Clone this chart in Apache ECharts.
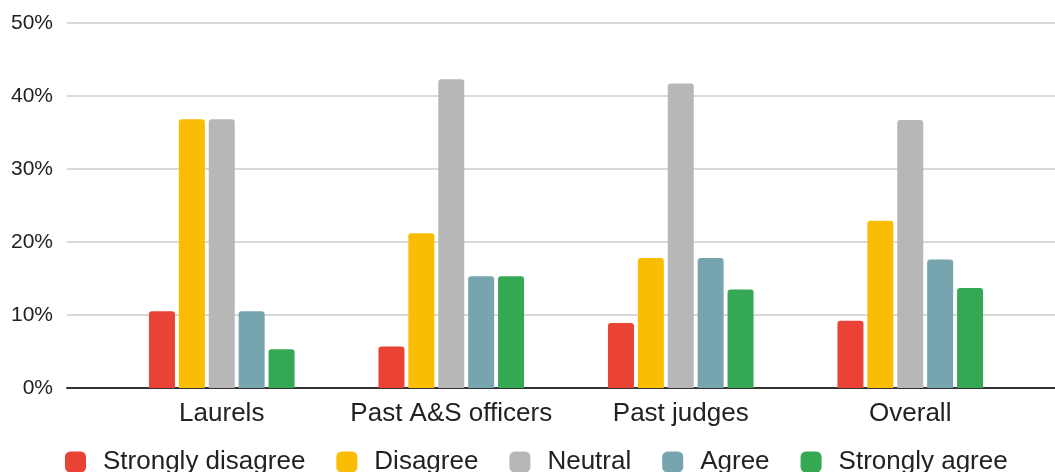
<!DOCTYPE html>
<html>
<head>
<meta charset="utf-8">
<script src="https://cdn.jsdelivr.net/npm/echarts@6/dist/echarts.min.js"></script>
<style>
html,body{margin:0;padding:0;background:#fff;}
#chart{width:1055px;height:472px;}
</style>
</head>
<body>
<div id="chart"></div>
<script>
const categories = ['Laurels', 'Past A&S officers', 'Past judges', 'Overall'];
const seriesNames = ['Strongly disagree', 'Disagree', 'Neutral', 'Agree', 'Strongly agree'];
const stronglyDisagree = [10.5, 5.7, 8.9, 9.2];
const disagree = [36.8, 21.2, 17.8, 22.9];
const neutral = [36.8, 42.3, 41.7, 36.7];
const agree = [10.5, 15.3, 17.8, 17.6];
const stronglyAgree = [5.3, 15.3, 13.5, 13.7];
const yTicks = [0, 10, 20, 30, 40, 50];
const colors = ['#EA4335', '#FBBC04', '#B7B7B7', '#76A5AF', '#34A853'];

const values = [stronglyDisagree, disagree, neutral, agree, stronglyAgree];
const font = 'Liberation Sans, Arial, sans-serif';

const chart = echarts.init(document.getElementById('chart'));
chart.setOption({
  animation: false,
  color: colors,
  textStyle: { fontFamily: font },
  grid: [
    { left: 67, right: 0, top: 23, bottom: 84 },
    { left: 107, right: 30, top: 23, bottom: 84 }
  ],
  legend: {
    data: seriesNames,
    left: 65,
    top: 449,
    padding: 0,
    itemWidth: 21,
    itemHeight: 21,
    itemGap: 31,
    icon: 'roundRect',
    textStyle: { fontSize: 26, color: '#222', fontFamily: font, padding: [0, 0, 0, 12] }
  },
  xAxis: [
    {
      gridIndex: 0, type: 'value', min: 0, max: 1,
      axisLine: { show: true, lineStyle: { color: '#333', width: 2 } },
      axisTick: { show: false }, axisLabel: { show: false }, splitLine: { show: false }
    },
    {
      gridIndex: 1, type: 'category', data: categories,
      axisLine: { show: false }, axisTick: { show: false },
      axisLabel: { interval: 0, fontSize: 26, color: '#222', margin: 13, fontFamily: font }
    }
  ],
  yAxis: [
    {
      gridIndex: 0, type: 'value',
      min: yTicks[0], max: yTicks[yTicks.length - 1], interval: 10,
      axisLine: { show: false }, axisTick: { show: false },
      axisLabel: { formatter: '{value}%', fontSize: 21, color: '#222', margin: 14, fontFamily: font },
      splitLine: { lineStyle: { color: '#cccccc', width: 1.5 } }
    },
    {
      gridIndex: 1, type: 'value',
      min: yTicks[0], max: yTicks[yTicks.length - 1], interval: 10,
      show: false, splitLine: { show: false }
    }
  ],
  series: seriesNames.map((name, i) => ({
    name: name,
    type: 'bar',
    xAxisIndex: 1,
    yAxisIndex: 1,
    data: values[i],
    barWidth: 26,
    barGap: '15%',
    itemStyle: { color: colors[i], borderRadius: [3, 3, 0, 0] }
  }))
});
</script>
</body>
</html>
